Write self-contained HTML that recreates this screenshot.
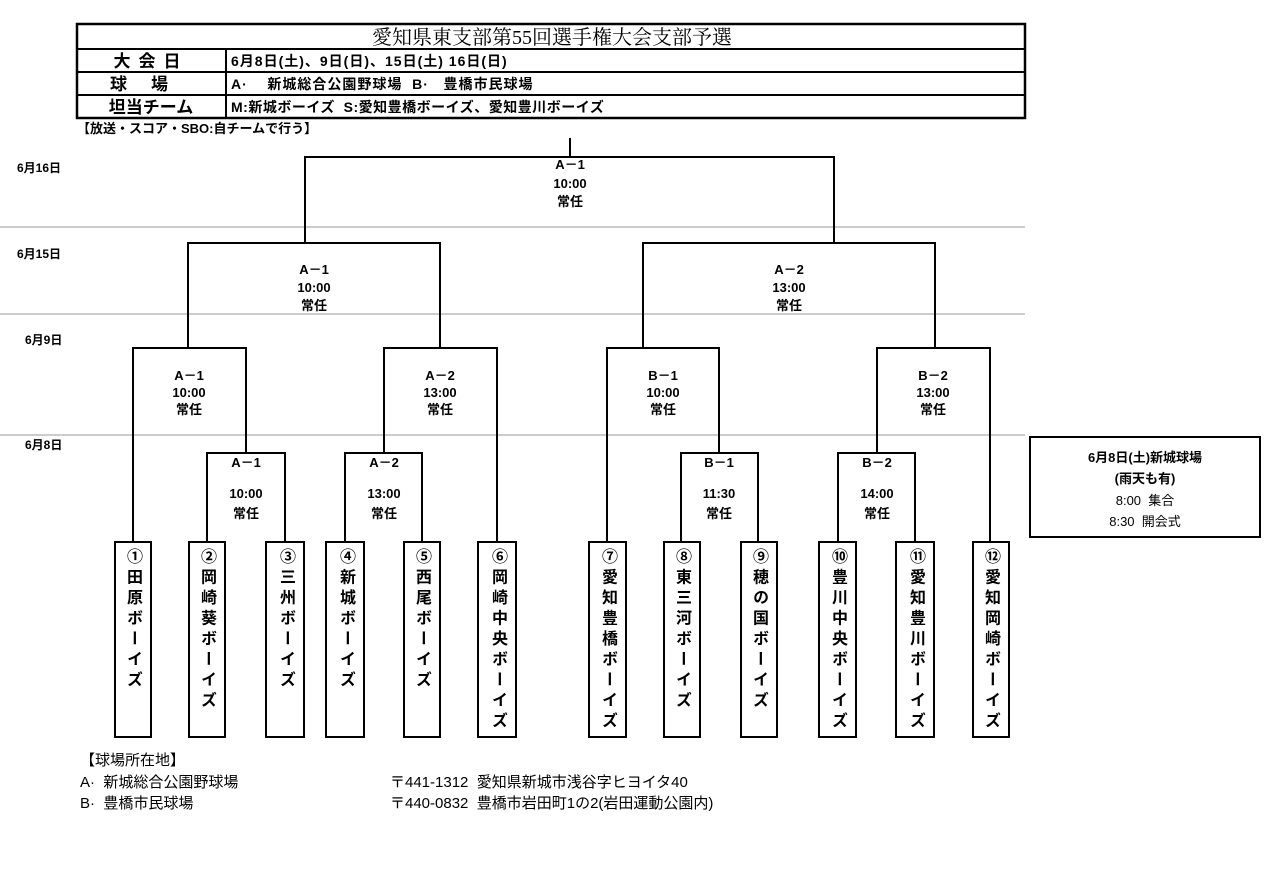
<!DOCTYPE html>
<html><head><meta charset="utf-8"><style>
body{margin:0;background:#fff;width:1280px;height:869px;overflow:hidden;position:relative;font-family:"Liberation Sans","Noto Sans CJK JP",sans-serif;color:#000}
.tm{position:absolute;top:541px;height:197px;border:2px solid #000;box-sizing:border-box;writing-mode:vertical-rl;white-space:nowrap;font-weight:bold;font-size:16px;letter-spacing:4.5px;padding-top:5px;line-height:36px;overflow:hidden}
svg{position:absolute;left:0;top:0}
</style></head><body>
<svg width="1280" height="869" font-family="Liberation Sans, Noto Sans CJK JP, sans-serif">
<g stroke="#999" stroke-width="1"><line x1="0" y1="227" x2="1025" y2="227"/><line x1="0" y1="314" x2="1025" y2="314"/><line x1="0" y1="435" x2="1025" y2="435"/></g>
<g fill="none" stroke="#000" stroke-width="2">
<rect x="77" y="24" width="948" height="94" stroke-width="2.5"/>
<line x1="77" y1="49" x2="1025" y2="49"/><line x1="77" y1="72" x2="1025" y2="72"/><line x1="77" y1="95" x2="1025" y2="95"/>
<line x1="226" y1="49" x2="226" y2="118"/>
<polyline points="570,138 570,157"/>
<polyline points="305,243 305,157 834,157 834,243"/>
<polyline points="188,348 188,243 440,243 440,348"/>
<polyline points="643,348 643,243 935,243 935,348"/>
<polyline points="133,541 133,348 246,348 246,453"/>
<polyline points="384,453 384,348 497,348 497,541"/>
<polyline points="607,541 607,348 719,348 719,453"/>
<polyline points="877,453 877,348 990,348 990,541"/>
<polyline points="207,541 207,453 285,453 285,541"/>
<polyline points="345,541 345,453 422,453 422,541"/>
<polyline points="681,541 681,453 758,453 758,541"/>
<polyline points="838,541 838,453 915,453 915,541"/>
<rect x="1030" y="437" width="230" height="100"/>
</g>
<text x="552" y="44" font-size="20" text-anchor="middle" font-family="Liberation Serif, Noto Serif CJK SC, serif">愛知県東支部第55回選手権大会支部予選</text>
<g font-weight="bold" font-size="17" text-anchor="middle"><text x="151" y="67" letter-spacing="8">大会日</text><text x="151" y="90" letter-spacing="24">球場</text><text x="151" y="113">坦当チーム</text></g>
<g font-size="14" font-weight="bold"><text x="231" y="66" letter-spacing="1">6月8日(土)、9日(日)、15日(土)  16日(日)</text><text x="231" y="89" letter-spacing="1" xml:space="preserve">A·    新城総合公園野球場  B·   豊橋市民球場</text><text x="231" y="112" letter-spacing="0.5" xml:space="preserve">M:新城ボーイズ  S:愛知豊橋ボーイズ、愛知豊川ボーイズ</text></g>
<g font-size="13" font-weight="bold">
<text x="77" y="133">【放送・スコア・SBO:自チームで行う】</text>
<text x="17" y="172" font-size="12">6月16日</text><text x="17" y="258" font-size="12">6月15日</text><text x="25" y="344" font-size="12">6月9日</text><text x="25" y="449" font-size="12">6月8日</text>
</g>
<g font-size="13" font-weight="bold" text-anchor="middle">
<text x="570" y="169">A－1</text><text x="570" y="188">10:00</text><text x="570" y="206">常任</text>
<text x="314" y="274">A－1</text><text x="314" y="292">10:00</text><text x="314" y="310">常任</text>
<text x="789" y="274">A－2</text><text x="789" y="292">13:00</text><text x="789" y="310">常任</text>
<text x="189" y="380">A－1</text><text x="189" y="397">10:00</text><text x="189" y="414">常任</text>
<text x="440" y="380">A－2</text><text x="440" y="397">13:00</text><text x="440" y="414">常任</text>
<text x="663" y="380">B－1</text><text x="663" y="397">10:00</text><text x="663" y="414">常任</text>
<text x="933" y="380">B－2</text><text x="933" y="397">13:00</text><text x="933" y="414">常任</text>
<text x="246" y="467">A－1</text><text x="246" y="498">10:00</text><text x="246" y="518">常任</text>
<text x="384" y="467">A－2</text><text x="384" y="498">13:00</text><text x="384" y="518">常任</text>
<text x="719" y="467">B－1</text><text x="719" y="498">11:30</text><text x="719" y="518">常任</text>
<text x="877" y="467">B－2</text><text x="877" y="498">14:00</text><text x="877" y="518">常任</text>
<text x="1145" y="462">6月8日(土)新城球場</text><text x="1145" y="483">(雨天も有)</text><text x="1145" y="505" font-weight="normal" xml:space="preserve">8:00  集合</text><text x="1145" y="526" font-weight="normal" xml:space="preserve">8:30  開会式</text>
</g>
<g font-size="15"><text x="80" y="765">【球場所在地】</text><text x="80" y="787" xml:space="preserve">A·  新城総合公園野球場</text><text x="80" y="808" xml:space="preserve">B·  豊橋市民球場</text>
<text x="390" y="787" xml:space="preserve">〒441-1312  愛知県新城市浅谷字ヒヨイタ40</text><text x="390" y="808" xml:space="preserve">〒440-0832  豊橋市岩田町1の2(岩田運動公園内)</text></g>
</svg>
<div class="tm" style="left:114px;width:38px">①田原ボーイズ</div>
<div class="tm" style="left:188px;width:38px">②岡崎葵ボーイズ</div>
<div class="tm" style="left:265px;width:40px">③三州ボーイズ</div>
<div class="tm" style="left:325px;width:40px">④新城ボーイズ</div>
<div class="tm" style="left:403px;width:38px">⑤西尾ボーイズ</div>
<div class="tm" style="left:477px;width:40px">⑥岡崎中央ボーイズ</div>
<div class="tm" style="left:588px;width:39px">⑦愛知豊橋ボーイズ</div>
<div class="tm" style="left:663px;width:38px">⑧東三河ボーイズ</div>
<div class="tm" style="left:740px;width:38px">⑨穂の国ボーイズ</div>
<div class="tm" style="left:818px;width:39px">⑩豊川中央ボーイズ</div>
<div class="tm" style="left:895px;width:40px">⑪愛知豊川ボーイズ</div>
<div class="tm" style="left:972px;width:38px">⑫愛知岡崎ボーイズ</div>
</body></html>
